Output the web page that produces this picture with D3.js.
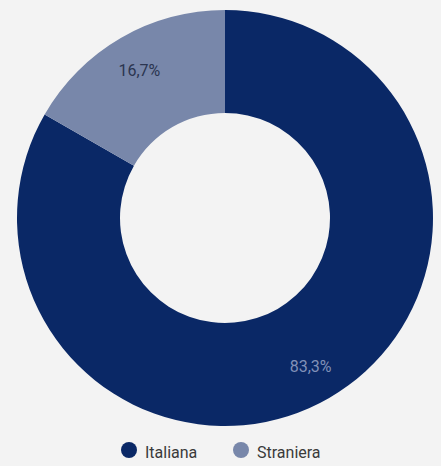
<!DOCTYPE html>
<html>
<head>
<meta charset="utf-8">
<script src="https://cdn.jsdelivr.net/npm/d3@7"></script>
<style>
  html, body { margin: 0; padding: 0; background: #f3f3f3; }
  svg { display: block; font-family: Roboto, "Noto Sans", sans-serif; }
</style>
</head>
<body>
<svg id="chart" width="441" height="466"></svg>
<script>
const categories = ["Italiana", "Straniera"];
const values = [83.3, 16.7];
const valueLabels = ["83,3%", "16,7%"];
const colors = ["#0a2866", "#7887aa"];
const labelColors = ["#8191b8", "#2b3550"];

const svg = d3.select("#chart");
const cx = 225, cy = 218, outerR = 208, innerR = 105;

// Slices run clockwise from 12 o'clock in data order
const pie = d3.pie().sort(null).value(d => d.v);
const data = categories.map((c, i) => ({ c, v: values[i], i }));
const arcs = pie(data);

const arc = d3.arc().innerRadius(innerR).outerRadius(outerR);
const labelArc = d3.arc().innerRadius(171).outerRadius(171);

const g = svg.append("g").attr("transform", `translate(${cx},${cy})`);

g.selectAll("path.slice")
  .data(arcs)
  .join("path")
  .attr("class", "slice")
  .attr("d", arc)
  .attr("fill", d => colors[d.data.i]);

g.selectAll("text.val")
  .data(arcs)
  .join("text")
  .attr("class", "val")
  .attr("transform", d => {
    const [x, y] = labelArc.centroid(d);
    return `translate(${x},${y})`;
  })
  .attr("text-anchor", "middle")
  .attr("dy", "0.35em")
  .attr("font-size", 16)
  .attr("fill", d => labelColors[d.data.i])
  .text(d => valueLabels[d.data.i]);

// Legend
const legendDotX = [129, 241];
const legendTextX = [145, 257];
const legend = svg.append("g").attr("transform", "translate(0,450)");
const items = legend.selectAll("g.item")
  .data(categories)
  .join("g")
  .attr("class", "item");
items.append("circle")
  .attr("cx", (d, i) => legendDotX[i])
  .attr("r", 8)
  .attr("fill", (d, i) => colors[i]);
items.append("text")
  .attr("x", (d, i) => legendTextX[i])
  .attr("y", 8)
  .attr("font-size", 16)
  .attr("fill", "#3a3a3a")
  .text(d => d);
</script>
</body>
</html>
